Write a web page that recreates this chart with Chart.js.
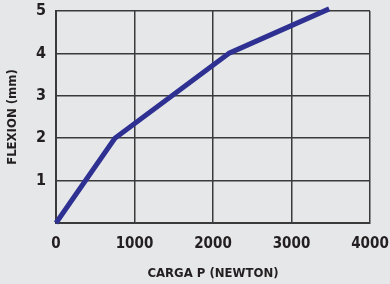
<!DOCTYPE html>
<html><head><meta charset="utf-8">
<script src="https://cdn.jsdelivr.net/npm/chart.js@4/dist/chart.umd.min.js"></script>
<style>html,body{margin:0;padding:0;background:#e6e7e9;}#wrap{width:390px;height:284px;}</style>
</head><body><div id="wrap"><canvas id="c" width="390" height="284"></canvas></div>
<script>
const cargaP = [0, 750, 2200, 3480];
const flexion = [0, 2, 4, 5.05];
const xTicks = [0, 1000, 2000, 3000, 4000];
const yTicks = [1, 2, 3, 4, 5];
const xTitle = 'CARGA P (NEWTON)';
const yTitle = 'FLEXION (mm)';

const FONT = "'Liberation Sans Narrow','DejaVu Sans Condensed','Arial Narrow',sans-serif";
const GRID = '#3a3a3a';
new Chart(document.getElementById('c'), {
  type: 'line',
  data: { datasets: [{
    data: cargaP.map((x, i) => ({x, y: flexion[i]})),
    borderColor: '#2e3192', borderWidth: 5, pointRadius: 0, tension: 0, fill: false, clip: false,
    borderCapStyle: 'butt', borderJoinStyle: 'round'
  }]},
  options: {
    responsive: false, animation: false, devicePixelRatio: 1,
    layout: { padding: { top: 11, right: 20, left: 0, bottom: 0 } },
    plugins: { legend: { display: false }, tooltip: { enabled: false } },
    scales: {
      x: {
        type: 'linear', min: 0, max: 4000,
        afterBuildTicks: s => { s.ticks = xTicks.map(v => ({value: v})); },
        afterFit: s => { s.height = 61; s.paddingLeft = 0; s.paddingRight = 0; },
        grid: { color: GRID, lineWidth: 1.5, drawTicks: false },
        border: { color: GRID, width: 2 },
        ticks: { color: '#231f20', padding: 12, font: { family: FONT, size: 15, weight: 'bold' },
                 callback: v => String(v) },
        title: { display: true, text: xTitle, color: '#231f20', padding: { top: 0, bottom: 3 },
                 font: { family: FONT, size: 13, weight: 'bold' } }
      },
      y: {
        type: 'linear', min: 0, max: 5,
        afterBuildTicks: s => { s.ticks = [0].concat(yTicks).map(v => ({value: v})); },
        afterFit: s => { s.width = 56; s.paddingTop = 0; s.paddingBottom = 0; },
        grid: { color: GRID, lineWidth: 1.5, drawTicks: false },
        border: { color: GRID, width: 2 },
        ticks: { color: '#231f20', padding: 10, font: { family: FONT, size: 16, weight: 'bold' },
                 callback: v => v === 0 ? '' : String(v) },
        title: { display: true, text: yTitle, color: '#231f20', padding: { top: 5, bottom: 0 },
                 font: { family: FONT, size: 13, weight: 'bold' } }
      }
    }
  }
});
</script></body></html>
